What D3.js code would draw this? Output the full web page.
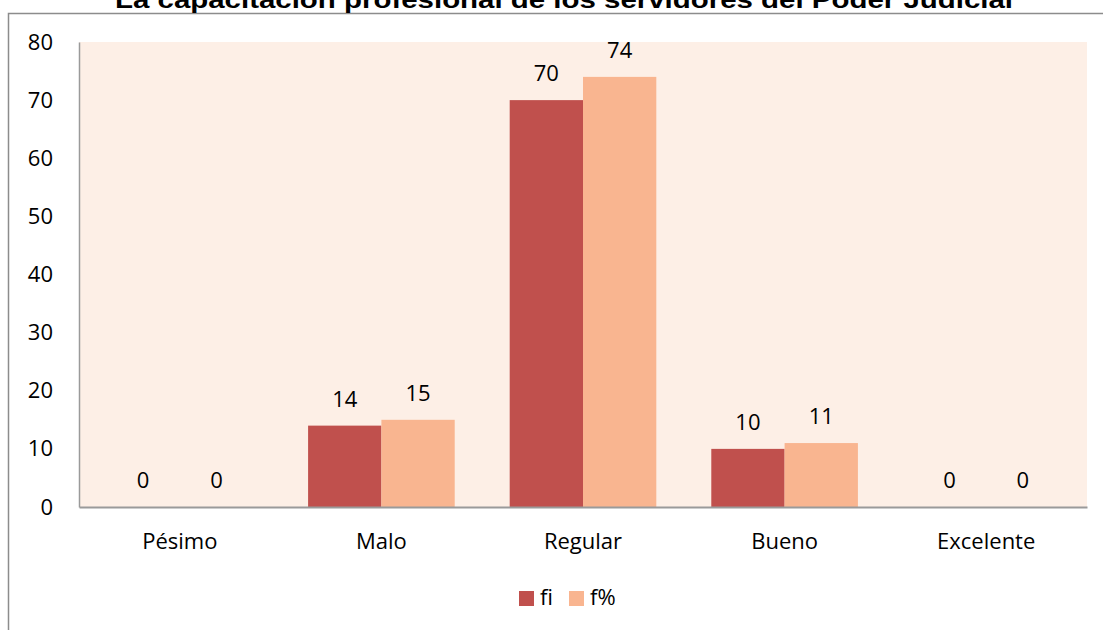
<!DOCTYPE html>
<html>
<head>
<meta charset="utf-8">
<script src="https://cdn.jsdelivr.net/npm/d3@7"></script>
<style>
  body { margin: 0; background: #fff; }
  svg { display: block; }
</style>
</head>
<body>
<div id="chart"></div>
<script>
// data
const categories = ["Pésimo", "Malo", "Regular", "Bueno", "Excelente"];
const seriesNames = ["fi", "f%"];
const fiValues = [0, 14, 70, 10, 0];
const fpValues = [0, 15, 74, 11, 0];
const yTicks = [0, 10, 20, 30, 40, 50, 60, 70, 80];
const titleText = "La capacitación profesional de los servidores del Poder Judicial";

const width = 1103, height = 630;
const margin = { top: 42, left: 79, right: 16, bottom: 123 };
const colors = ["#C0504D", "#F9B590"];
const labelFont = "'Open Sans', Lato, sans-serif";
const fs = 22;

const svg = d3.select("#chart").append("svg")
  .attr("width", width)
  .attr("height", height);

// outer chart border (only left and top visible)
svg.append("rect")
  .attr("x", 8.5).attr("y", 13.5)
  .attr("width", 1200).attr("height", 700)
  .attr("fill", "none")
  .attr("stroke", "#8c8c8c")
  .attr("stroke-width", 1.5);

// title, cut off at the top
svg.append("text")
  .attr("x", 115).attr("y", 8)
  .attr("font-family", "Arial, 'Liberation Sans', sans-serif")
  .attr("font-weight", "bold")
  .attr("font-size", 24)
  .attr("textLength", 898)
  .attr("lengthAdjust", "spacingAndGlyphs")
  .text(titleText);

const x0 = d3.scaleBand()
  .domain(categories)
  .range([margin.left, width - margin.right]);

const x1 = d3.scaleBand()
  .domain(seriesNames)
  .range([0, x0.bandwidth()])
  .paddingInner(0)
  .paddingOuter(0.375);

const y = d3.scaleLinear()
  .domain([0, 80])
  .range([height - margin.bottom, margin.top]);

// plot background
svg.append("rect")
  .attr("x", margin.left).attr("y", margin.top)
  .attr("width", width - margin.right - margin.left)
  .attr("height", y(0) - margin.top)
  .attr("fill", "#FDEFE6");

const rows = categories.map((c, i) => ({ cat: c, vals: [fiValues[i], fpValues[i]] }));

const groups = svg.selectAll("g.cat")
  .data(rows)
  .join("g")
  .attr("class", "cat")
  .attr("transform", d => `translate(${x0(d.cat)},0)`);

groups.selectAll("rect")
  .data(d => d.vals.map((v, j) => ({ key: seriesNames[j], v, j })))
  .join("rect")
  .attr("x", d => x1(d.key))
  .attr("y", d => y(d.v))
  .attr("width", x1.bandwidth())
  .attr("height", d => y(0) - y(d.v))
  .attr("fill", d => colors[d.j]);

groups.selectAll("text")
  .data(d => d.vals.map((v, j) => ({ key: seriesNames[j], v })))
  .join("text")
  .attr("x", d => x1(d.key) + x1.bandwidth() / 2)
  .attr("y", d => y(d.v) - 19)
  .attr("text-anchor", "middle")
  .attr("font-family", labelFont)
  .attr("font-size", fs)
  .attr("fill", "#000")
  .text(d => d.v);

// y axis
const yAxis = svg.append("g")
  .attr("transform", `translate(${margin.left},0)`)
  .call(d3.axisLeft(y).tickValues(yTicks).tickSize(0).tickPadding(26));
yAxis.select(".domain").attr("stroke", "#9a9a9a").attr("stroke-width", 1.5);
yAxis.selectAll("text")
  .attr("font-family", labelFont)
  .attr("font-size", fs)
  .attr("fill", "#000");

// x axis
const xAxis = svg.append("g")
  .attr("transform", `translate(0,${y(0)})`)
  .call(d3.axisBottom(x0).tickSize(0).tickPadding(26));
xAxis.select(".domain").attr("stroke", "#9a9a9a").attr("stroke-width", 2);
xAxis.selectAll("text")
  .attr("font-family", labelFont)
  .attr("font-size", fs)
  .attr("fill", "#000");

// legend
const legend = svg.append("g").attr("transform", "translate(519,591)");
const legItems = legend.selectAll("g")
  .data(seriesNames)
  .join("g")
  .attr("transform", (d, i) => `translate(${i * 50},0)`);
legItems.append("rect")
  .attr("width", 15).attr("height", 15)
  .attr("fill", (d, i) => colors[i]);
legItems.append("text")
  .attr("x", 21).attr("y", 14)
  .attr("font-family", labelFont)
  .attr("font-size", fs)
  .text(d => d);
</script>
</body>
</html>
